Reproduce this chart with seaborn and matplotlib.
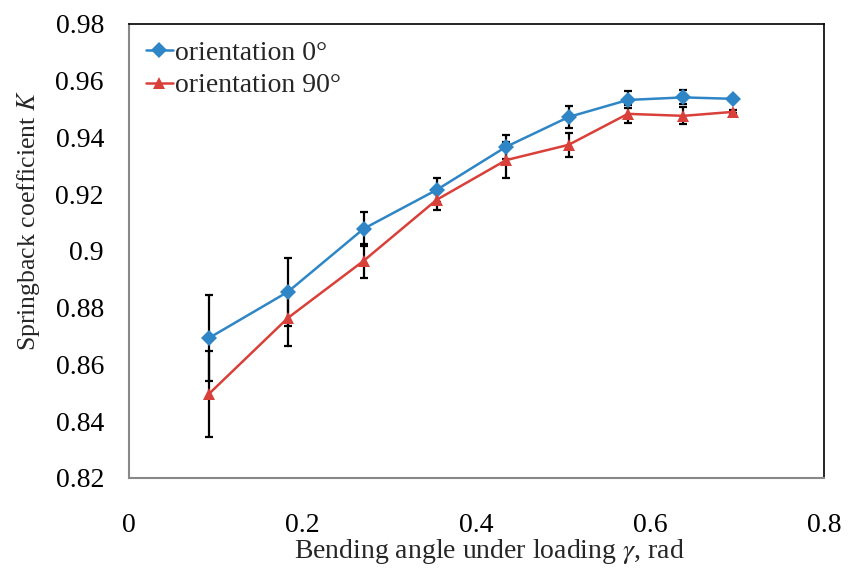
import matplotlib
matplotlib.use("Agg")
import matplotlib.pyplot as plt
import seaborn as sns
import pandas as pd
import numpy as np

gamma_0 = [0.092, 0.183, 0.270, 0.354, 0.434, 0.506, 0.574, 0.638, 0.695]
k_0 = [0.8693, 0.8856, 0.9078, 0.9215, 0.9367, 0.9472, 0.9532, 0.9541, 0.9536]
err_0 = [0.015, 0.012, 0.006, 0.0042, 0.0042, 0.004, 0.003, 0.0025, 0.0005]

gamma_90 = [0.092, 0.183, 0.270, 0.354, 0.434, 0.506, 0.574, 0.638, 0.695]
k_90 = [0.8496, 0.8764, 0.8965, 0.9180, 0.9320, 0.9374, 0.9483, 0.9476, 0.9490]
err_90 = [0.015, 0.010, 0.006, 0.0035, 0.0063, 0.0043, 0.0032, 0.003, 0.0005]

labels = ["orientation 0°", "orientation 90°"]
colors = ["#2f86c6", "#d9403a"]

xtick_vals = [0, 0.2, 0.4, 0.6, 0.8]
xtick_labels = ["0", "0.2", "0.4", "0.6", "0.8"]
ytick_vals = [0.82, 0.84, 0.86, 0.88, 0.90, 0.92, 0.94, 0.96, 0.98]
ytick_labels = ["0.82", "0.84", "0.86", "0.88", "0.9", "0.92", "0.94", "0.96", "0.98"]

df = pd.concat([
    pd.DataFrame({"gamma": gamma_0, "K": k_0, "series": labels[0]}),
    pd.DataFrame({"gamma": gamma_90, "K": k_90, "series": labels[1]}),
])

sns.set_style("white")
plt.rcParams["font.family"] = ["Liberation Serif", "DejaVu Serif"]
plt.rcParams["mathtext.fontset"] = "stix"

fig = plt.figure(figsize=(8.48, 5.69), dpi=100)
ax = fig.add_axes([0.152, 0.160, 0.820, 0.798])

for g, k, e in [(gamma_0, k_0, err_0), (gamma_90, k_90, err_90)]:
    ax.errorbar(g, k, yerr=e, fmt="none", ecolor="black", elinewidth=1.6,
                capsize=3, capthick=1.6, zorder=1)

sns.lineplot(data=df, x="gamma", y="K", hue="series", style="series",
             markers={labels[0]: "D", labels[1]: "^"}, dashes=False,
             palette=dict(zip(labels, colors)), linewidth=1.8,
             markersize=8, markeredgewidth=0, ax=ax, zorder=3, sort=False)

ax.set_xlim(0, 0.8)
ax.set_ylim(0.82, 0.98)
ax.set_xticks(xtick_vals)
ax.set_xticklabels(xtick_labels)
ax.set_yticks(ytick_vals)
ax.set_yticklabels(ytick_labels)
ax.tick_params(axis="both", labelsize=20, colors="#888888", labelcolor="black",
               direction="out", length=6, width=1)
ax.tick_params(axis="x", pad=19)
ax.tick_params(axis="y", pad=12)

for s in ["left", "bottom"]:
    ax.spines[s].set_color("#888888")
    ax.spines[s].set_linewidth(1.5)
for s in ["top", "right"]:
    ax.spines[s].set_color("black")
    ax.spines[s].set_linewidth(1.2)
    ax.spines[s].set_visible(True)

ax.set_xlabel(r"Bending angle under loading $\gamma$, rad", fontsize=20)
ax.set_ylabel(r"Springback coefficient $K$", fontsize=18.5)
ax.xaxis.set_label_coords(0.519, -0.163, transform=ax.transAxes)
ax.xaxis.label.set_va("center")
ax.yaxis.set_label_coords(-0.145, 0.566, transform=ax.transAxes)
ax.yaxis.label.set_va("center")

leg = ax.legend(loc="upper left", frameon=False, fontsize=20, handlelength=1.0,
                handletextpad=0.05, borderaxespad=0.2, labelspacing=0.25)

fig.savefig("out.png", dpi=100)
